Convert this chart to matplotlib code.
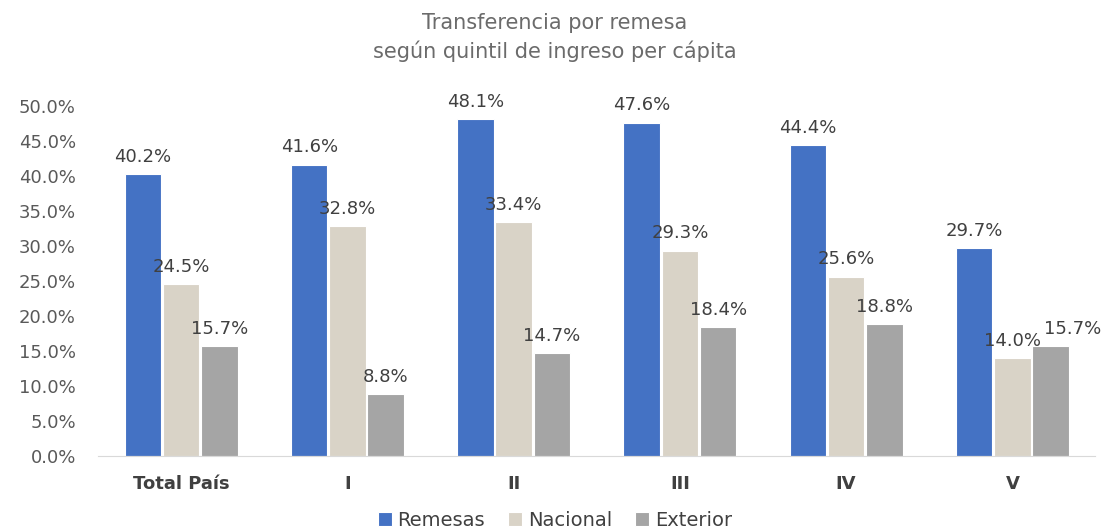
import numpy as np
import matplotlib.pyplot as plt
from matplotlib.ticker import FuncFormatter

plt.rcParams['font.family'] = ['DejaVu Sans']

categories = ['Total País', 'I', 'II', 'III', 'IV', 'V']
remesas = [40.2, 41.6, 48.1, 47.6, 44.4, 29.7]
nacional = [24.5, 32.8, 33.4, 29.3, 25.6, 14.0]
exterior = [15.7, 8.8, 14.7, 18.4, 18.8, 15.7]

series = [('Remesas', remesas, '#4472C4'),
          ('Nacional', nacional, '#D9D3C7'),
          ('Exterior', exterior, '#A5A5A5')]

fig = plt.figure(figsize=(11.01, 5.29), dpi=100)
ax = fig.add_axes([0.089, 0.138, 0.906, 0.662])

x = np.arange(len(categories))
w = 0.23
for i, (name, vals, col) in enumerate(series):
    pos = x + (i - 1) * w
    ax.bar(pos, vals, width=w - 0.01, color=col, label=name, edgecolor='white', linewidth=0.8)
    for j, (xp, v) in enumerate(zip(pos, vals)):
        dx = 0
        # last label sits right of its bar so it does not run into 14.0%
        if i == 2 and j == len(vals) - 1:
            dx = 16
        ax.annotate(f'{v:.1f}%', (xp, v), xytext=(dx, 6), textcoords='offset points',
                    ha='center', va='bottom', fontsize=13, color='#404040',
                    annotation_clip=False)

ax.set_xlim(-0.5, 5.5)
ax.set_ylim(0, 50)
ax.set_yticks(np.arange(0, 51, 5))
ax.yaxis.set_major_formatter(FuncFormatter(lambda v, p: f'{v:.1f}%'))
ax.set_xticks(x)
ax.set_xticklabels(categories, fontsize=13, color='#404040', fontweight='semibold')
for t in ax.get_yticklabels():
    t.set_fontsize(13)
    t.set_color('#595959')
ax.tick_params(axis='both', length=0)
ax.tick_params(axis='x', pad=14)
ax.tick_params(axis='y', pad=16)
for s in ['top', 'right', 'left']:
    ax.spines[s].set_visible(False)
ax.spines['bottom'].set_color('#D9D9D9')

fig.text(0.504, 0.975, 'Transferencia por remesa\nsegún quintil de ingreso per cápita',
         ha='center', va='top', fontsize=15, color='#6b6b6b', linespacing=1.4)

fig.legend(loc='lower center', bbox_to_anchor=(0.504, -0.035), ncol=3, frameon=False,
           fontsize=14, handlelength=0.7, handleheight=0.7, handletextpad=0.3,
           columnspacing=1.2, labelcolor='#404040')

fig.savefig('out.png', dpi=100)
